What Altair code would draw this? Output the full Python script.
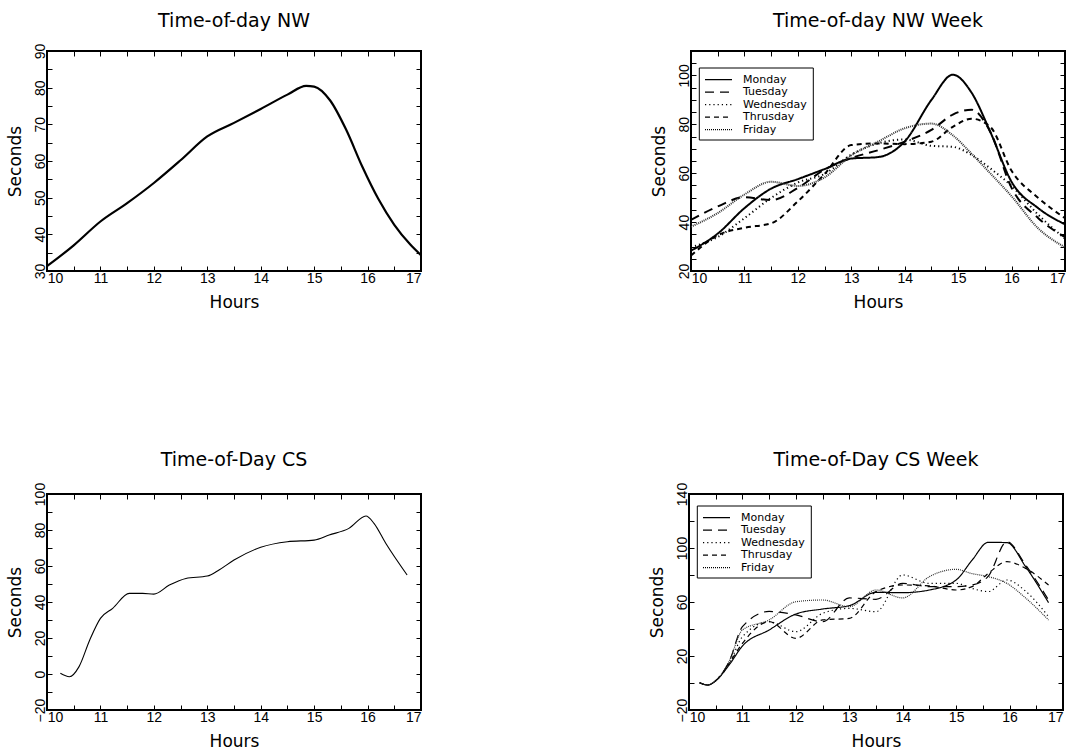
import altair as alt
import pandas as pd

# ---------------- data ----------------
NW_HOURS = [10, 10.5, 11, 11.5, 12, 12.5, 13, 13.5, 14, 14.5, 14.85, 15, 15.3, 15.6, 15.9, 16.2, 16.5, 16.8, 17]
NW_SECONDS = [31.3, 37.0, 43.5, 48.5, 54.0, 60.2, 66.7, 70.4, 74.2, 78.1, 80.5, 80.3, 76.5, 68.5, 58.5, 49.7, 42.6, 37.2, 34.3]

NWW_HOURS = [10, 10.5, 11, 11.5, 12, 12.5, 13, 13.5, 14, 14.5, 14.9, 15.25, 15.6, 16, 16.5, 17]
NWW_MON = [28.3, 35.3, 45.7, 53.7, 57.6, 61.7, 66.0, 66.6, 73.0, 90.0, 100.3, 93.0, 77.0, 56.5, 45.7, 39.1]
NWW_TUE = [40.9, 46.4, 50.2, 49.0, 54.0, 61.5, 66.2, 69.4, 72.9, 77.7, 84.0, 86.0, 77.0, 54.0, 41.6, 33.9]
NWW_WED = [29.7, 33.9, 41.6, 49.9, 56.2, 59.7, 67.6, 72.2, 73.8, 71.2, 70.8, 67.5, 62.0, 54.8, 43.0, 33.2]
NWW_THU = [26.3, 34.6, 37.7, 39.5, 48.5, 59.7, 71.5, 72.2, 71.9, 72.9, 79.0, 82.3, 79.0, 61.0, 49.9, 41.6]
NWW_FRI = [38.1, 43.7, 51.3, 56.5, 54.8, 58.3, 67.3, 72.9, 78.4, 80.3, 75.5, 68.0, 60.0, 50.6, 37.4, 29.7]

CS_HOURS = [10.25, 10.42, 10.6, 10.8, 11.0, 11.23, 11.54, 11.79, 12.0, 12.29, 12.6, 13.0, 13.22, 13.5,
            14.0, 14.5, 15.0, 15.28, 15.65, 15.97, 16.12, 16.34, 16.74]
CS_SECONDS = [0.4, -1.5, 4.1, 18.9, 30.9, 36.5, 44.8, 44.8, 44.4, 49.4, 53.1, 54.4, 57.8, 63.3,
              70.4, 73.5, 74.4, 77.2, 80.9, 87.8, 83.7, 72.6, 55.0]

CSW_HOURS = [10.2, 10.35, 10.5, 10.75, 11, 11.5, 12, 12.5, 13, 13.5, 14, 14.5, 15, 15.3, 15.6, 15.95, 16.3, 16.73]
CSW_MON = [0.2, -1.5, 1.7, 13.3, 27.4, 39.3, 51.1, 54.8, 57.3, 67.2, 66.9, 68.9, 76.3, 91.1, 104.2, 104.0, 86.2, 59.5]
CSW_TUE = [0.2, -1.5, 1.7, 15.8, 41.7, 53.0, 50.4, 45.4, 63.0, 62.0, 73.8, 71.4, 71.4, 72.6, 79.0, 104.7, 87.4, 61.5]
CSW_WED = [0.2, -1.5, 1.7, 14.0, 34.3, 45.4, 38.0, 51.6, 55.3, 52.8, 80.0, 73.8, 73.8, 70.0, 67.7, 76.3, 68.0, 49.1]
CSW_THU = [0.2, -1.5, 1.7, 14.5, 29.4, 45.4, 33.1, 46.7, 47.9, 67.7, 72.6, 71.9, 68.9, 71.4, 81.2, 89.9, 84.9, 72.6]
CSW_FRI = [0.2, -1.5, 1.7, 16.0, 39.3, 46.7, 60.2, 61.5, 56.5, 68.9, 63.0, 78.8, 84.2, 81.0, 78.8, 73.8, 63.0, 46.7]

DAYS = ["Monday", "Tuesday", "Wednesday", "Thrusday", "Friday"]
DASHES = [[1, 0], [9, 6], [1.2, 3], [5, 4], [1, 1]]
COLORS = ["black", "black", "black", "black", "#333333"]
NW_WIDTHS = [2.0, 2.0, 1.2, 1.8, 1.0]
CS_WIDTHS = [1.2, 1.2, 1.2, 1.2, 1.0]

X_TICKS = [10 + 0.5 * i for i in range(15)]
X_LABELS = [10.15, 11, 12, 13, 14, 15, 16, 17]

FONT = "DejaVu Sans"
NUMFONT = "Liberation Sans"


def steps(lo, hi, step):
    out = []
    v = lo
    while v <= hi + 1e-9:
        out.append(v)
        v += step
    return out


def week_df(hours, series):
    rows = []
    for d, vals in zip(DAYS, series):
        for h, v in zip(hours, vals):
            rows.append({"hour": h, "sec": v, "day": d, "grp": d})
    return pd.DataFrame(rows)


def legend_layers(legend_top):
    """Boxed key in the upper-left corner of a week panel."""
    key_df = pd.DataFrame({"day": DAYS, "row": list(range(len(DAYS)))})
    row_scale = alt.Scale(domain=[0, len(DAYS) - 1],
                          range=[legend_top + 11.7, legend_top + 61.7])
    box = alt.Chart(pd.DataFrame({"k": [0]})).mark_rect(
        fill="white", stroke="black", strokeWidth=1).encode(
        x=alt.value(8.3), x2=alt.value(122.3),
        y=alt.value(legend_top), y2=alt.value(legend_top + 72))
    samples = alt.Chart(key_df).mark_rule(color="black", strokeWidth=1.2).encode(
        x=alt.value(14), x2=alt.value(41),
        y=alt.Y("row:Q", scale=row_scale, axis=None),
        strokeDash=alt.StrokeDash("day:N", scale=alt.Scale(domain=DAYS, range=DASHES),
                                  legend=None))
    labels = alt.Chart(key_df).mark_text(
        align="left", baseline="middle", font=FONT, fontSize=11, color="black").encode(
        x=alt.value(52),
        y=alt.Y("row:Q", scale=row_scale, axis=None),
        text="day:N")
    return [box, samples, labels]


def panel(df, title, ydom, ystep, ylabstep, height, title_offset, week=False, widths=None,
          line_width=1.0, legend_top=13):
    xscale = alt.Scale(domain=[10, 17], nice=False, zero=False)
    yscale = alt.Scale(domain=ydom, nice=False, zero=False)
    yt = steps(ydom[0], ydom[1], ystep)
    ylab = steps(ydom[0], ydom[1], ylabstep)
    tick_common = dict(offset=-5, tickSize=5, domain=False, grid=False, tickColor="black",
                       tickWidth=1, labels=False, title=None)
    x_lab = alt.Axis(orient="bottom", values=X_LABELS, labelExpr="format(round(datum.value), 'd')",
                     ticks=False, domain=False, grid=False, labelOverlap=False,
                     labelPadding=0, labelFont=NUMFONT, labelFontSize=14, labelColor="black",
                     title="Hours", titleFont=FONT, titleFontSize=17, titleFontWeight="normal",
                     titleColor="black", titlePadding=9)
    y_lab = alt.Axis(orient="left", values=ylab, ticks=False, domain=False, grid=False,
                     labelOverlap=False, labelAngle=270, labelAlign="center",
                     labelBaseline="alphabetic", labelPadding=3,
                     labelFont=NUMFONT, labelFontSize=14, labelColor="black",
                     title="Seconds", titleFont=FONT, titleFontSize=17, titleFontWeight="normal",
                     titleColor="black", titlePadding=9)
    x_bot = alt.Axis(orient="bottom", values=X_TICKS, **tick_common)
    y_left = alt.Axis(orient="left", values=yt, **tick_common)
    x_top = alt.Axis(orient="top", values=X_TICKS, **tick_common)
    y_right = alt.Axis(orient="right", values=yt, **tick_common)

    if week:
        lines = alt.Chart(df).mark_line(interpolate="monotone", clip=True).encode(
            x=alt.X("hour:Q", scale=xscale, axis=x_lab),
            y=alt.Y("sec:Q", scale=yscale, axis=y_lab),
            strokeDash=alt.StrokeDash("day:N", scale=alt.Scale(domain=DAYS, range=DASHES),
                                      legend=None),
            color=alt.Color("grp:N", scale=alt.Scale(domain=DAYS, range=COLORS), legend=None),
            strokeWidth=alt.StrokeWidth("grp:N", scale=alt.Scale(domain=DAYS, range=widths),
                                        legend=None),
        )
    else:
        lines = alt.Chart(df).mark_line(interpolate="monotone", clip=True, color="black",
                                        strokeWidth=line_width).encode(
            x=alt.X("hour:Q", scale=xscale, axis=x_lab),
            y=alt.Y("sec:Q", scale=yscale, axis=y_lab),
        )
    ghost1 = alt.Chart(df).mark_point(opacity=0).encode(
        x=alt.X("hour:Q", scale=xscale, axis=x_top),
        y=alt.Y("sec:Q", scale=yscale, axis=y_right),
    )
    ghost2 = alt.Chart(df).mark_point(opacity=0).encode(
        x=alt.X("hour:Q", scale=xscale, axis=x_bot),
        y=alt.Y("sec:Q", scale=yscale, axis=y_left),
    )
    layers = [lines, ghost1, ghost2]
    if week:
        layers += legend_layers(legend_top)
    combo = alt.layer(*layers).resolve_axis(x="independent", y="independent")
    if week:
        combo = combo.resolve_scale(y="independent")
    return combo.properties(
        width=374, height=height,
        title=alt.TitleParams(title, font=FONT, fontSize=19, fontWeight="normal", color="black",
                              offset=title_offset, anchor="middle"),
    )


nw_df = pd.DataFrame({"hour": NW_HOURS, "sec": NW_SECONDS})
cs_df = pd.DataFrame({"hour": CS_HOURS, "sec": CS_SECONDS})
nww_df = week_df(NWW_HOURS, [NWW_MON, NWW_TUE, NWW_WED, NWW_THU, NWW_FRI])
csw_df = week_df(CSW_HOURS, [CSW_MON, CSW_TUE, CSW_WED, CSW_THU, CSW_FRI])

tl = panel(nw_df, "Time-of-day NW", [30, 90], 5, 10, 220, 12, line_width=2.2)
tr = panel(nww_df, "Time-of-day NW Week", [20, 110], 5, 20, 220, 20, week=True,
           widths=NW_WIDTHS, legend_top=17)
bl = panel(cs_df, "Time-of-Day CS", [-20, 100], 10, 20, 216, 12, line_width=1.1)
br = panel(csw_df, "Time-of-Day CS Week", [-20, 140], 20, 40, 216, 12, week=True,
           widths=CS_WIDTHS, legend_top=12)

IND = dict(strokeDash="independent", color="independent", strokeWidth="independent")

top_row = alt.hconcat(tl, tr, spacing=224).resolve_scale(**IND)
bot_row = alt.hconcat(bl, br, spacing=224).resolve_scale(**IND)

chart = alt.vconcat(top_row, bot_row, spacing=139).resolve_scale(**IND).properties(
    padding={"left": 5, "top": 10, "right": 5, "bottom": 0},
    background="white",
).configure_view(stroke="black", strokeWidth=2)

chart.save("out.html", embed_options={"renderer": "svg", "actions": False})
